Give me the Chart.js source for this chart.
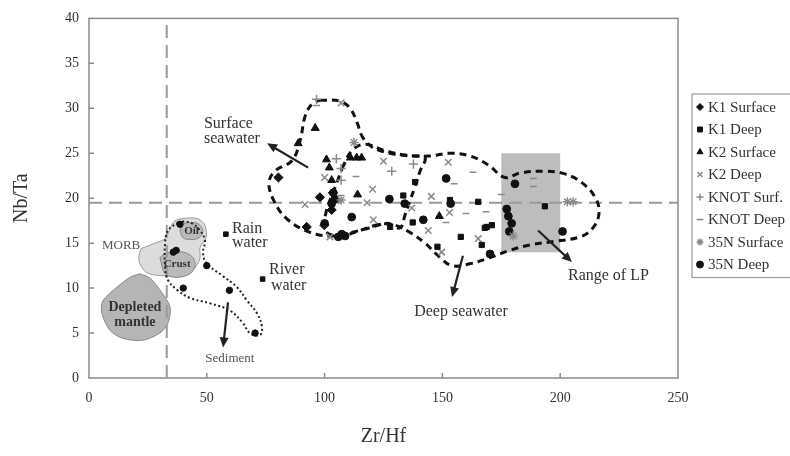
<!DOCTYPE html>
<html><head><meta charset="utf-8">
<script src="https://cdn.jsdelivr.net/npm/chart.js@4.4.0/dist/chart.umd.min.js"></script>
<style>html,body{margin:0;padding:0;background:#fff;}</style>
</head><body>
<canvas id="c" width="790" height="456"></canvas>
<script>
// ---- axis ticks ----
const xTickValues = [0, 50, 100, 150, 200, 250];
const yTickValues = [0, 5, 10, 15, 20, 25, 30, 35, 40];

// ---- series (Zr/Hf, Nb/Ta) ----
const k1Surface = [[80.4,22.3],[98.0,20.1],[103.0,18.7],[99.9,17.0],[92.4,16.8],[103.5,20.6]];
const k1Deep = [[138.4,21.8],[151.5,22.2],[133.4,20.3],[153.2,19.8],[165.2,19.6],[137.4,17.3],[127.8,16.8],[157.8,15.7],[168.8,16.8],[166.7,14.8],[147.9,14.6],[193.5,19.1],[171.0,17.0],[168.0,16.7]];
const k2Surface = [[96.0,27.8],[88.8,26.1],[111.0,24.5],[113.6,24.5],[115.7,24.5],[100.8,24.3],[102.0,23.4],[103.0,22.0],[114.0,20.4],[148.7,18.0]];
const k2Deep = [[107.0,30.6],[100.0,22.3],[91.7,19.3],[120.4,21.0],[125.0,24.1],[152.5,24.0],[137.0,18.9],[145.3,20.2],[153.0,18.4],[144.0,16.4],[165.2,15.5],[149.7,14.0],[120.7,17.6],[102.3,15.7],[118.0,19.5]];
const knotSurf = [[96.6,31.0],[105.0,24.4],[107.0,23.3],[107.0,22.0],[128.5,23.0],[137.7,23.8]];
const knotDeep = [[96.6,30.3],[113.3,22.4],[163.0,22.9],[155.0,21.6],[151.5,17.3],[175.0,20.4],[188.6,22.2],[188.6,21.3],[168.5,18.5],[107.0,20.3],[160.0,18.3]];
const n35Surface = [[112.5,26.2],[203.0,19.6],[205.5,19.6],[107.0,19.8],[180.0,15.8]];
const n35Deep = [[127.5,19.9],[134.0,19.4],[141.9,17.6],[153.5,19.4],[111.5,17.9],[104.4,19.9],[103.0,19.4],[107.3,16.0],[108.7,15.8],[105.8,15.7],[180.8,21.6],[177.3,18.8],[178.0,18.0],[179.4,17.2],[178.4,16.3],[201.0,16.3],[170.2,13.8],[151.6,22.2],[100.0,17.2],[103.7,20.6]];

// reference end-members
const sedimentPoints = [[38.6,17.1],[35.8,14.0],[37.0,14.2],[50.0,12.5],[40.0,10.0],[59.6,9.75],[70.5,5.0]];
const waterPoints = [[58.1,16.0],[73.7,11.0]];

// ---- fields / envelopes ----
const surfaceEnvelope = [[98.0,30.9],[106.5,30.8],[110.8,30.0],[113.8,28.4],[115.9,26.9],[120.1,25.7],[127.8,25.0],[136.2,24.7],[142.6,24.5],[140.5,23.0],[138.4,21.3],[136.2,19.7],[134.1,18.1],[132.0,16.7],[126.5,17.2],[119.3,16.7],[109.5,16.1],[102.3,15.8],[93.8,16.2],[84.0,17.7],[78.5,19.7],[76.4,21.7],[78.9,23.0],[86.2,24.2],[89.6,26.4],[91.7,29.1],[94.7,30.5],[98.0,30.9]];
const deepEnvelope = [[107.4,23.3],[111.6,25.3],[117.1,26.0],[125.6,25.3],[134.1,24.8],[144.7,24.7],[153.2,25.0],[161.7,24.7],[169.4,23.7],[176.6,22.3],[182.9,22.8],[193.5,23.0],[202.0,22.7],[209.3,21.7],[214.8,20.1],[216.5,18.4],[213.9,16.7],[208.4,15.7],[197.8,15.2],[187.2,14.8],[178.7,14.2],[170.2,13.4],[161.7,12.7],[154.1,12.5],[149.0,13.4],[142.6,15.0],[136.2,16.2],[129.9,17.0],[123.5,17.1],[115.0,16.4],[106.5,15.8],[100.2,16.4],[100.6,18.4],[103.1,20.3],[105.3,21.8],[107.4,23.3]];
const sedimentEnvelope = [[37.8,17.3],[33.5,16.4],[32.3,15.0],[32.3,12.3],[33.5,10.9],[37.4,9.8],[42.9,8.9],[51.4,8.3],[59.8,7.5],[65.4,6.1],[68.3,5.0],[72.6,4.8],[73.4,5.7],[71.3,7.2],[67.1,8.6],[62.8,10.1],[56.5,11.4],[50.1,12.7],[48.4,13.9],[49.2,15.3],[47.1,16.4],[43.7,17.2],[39.9,17.4],[37.8,17.3]];
const morbField = [[22.1,14.4],[28.0,15.0],[32.3,15.5],[34.4,16.6],[36.5,17.5],[42.0,17.8],[46.3,17.7],[49.2,17.0],[49.7,15.6],[47.1,14.5],[47.1,13.3],[44.1,12.0],[38.6,11.4],[30.1,11.4],[24.6,11.7],[21.6,12.7],[21.2,13.6],[22.1,14.4]];
const oilField = [[38.6,16.4],[39.9,17.1],[43.3,17.3],[46.7,17.1],[48.4,16.3],[46.7,15.6],[43.3,15.4],[39.9,15.6],[38.6,16.4]];
const crustField = [[30.1,13.4],[33.1,13.9],[39.9,14.0],[44.1,13.4],[45.0,12.5],[42.9,11.6],[37.4,11.2],[32.3,11.6],[30.1,13.4]];
const mantleField = [[21.6,11.6],[25.9,11.1],[30.1,9.8],[34.4,7.9],[33.5,6.1],[30.1,5.0],[22.9,4.2],[14.4,4.4],[8.9,5.3],[5.5,7.2],[5.9,8.6],[11.9,10.1],[17.4,11.2],[21.6,11.6]];
const lpRange = [[175,14],[200,14],[200,25],[175,25],[175,14]];
const refLineNbTa = [[0,19.5],[250,19.5]];
const refLineZrHf = [[33,0],[33,40]];

// ---- annotation labels (data coordinates) ----
const labels = [
  {t:'Surface', x:48.8, y:28.3, size:16, align:'left'},
  {t:'seawater', x:48.8, y:26.6, size:16, align:'left'},
  {t:'Rain', x:60.7, y:16.6, size:16, align:'left'},
  {t:'water', x:60.7, y:15.0, size:16, align:'left'},
  {t:'River', x:76.4, y:12.0, size:16, align:'left'},
  {t:'water', x:77.2, y:10.3, size:16, align:'left'},
  {t:'MORB', x:5.5, y:14.7, size:13, align:'left', color:'#555'},
  {t:'Oil', x:43.5, y:16.3, size:11, align:'center', bold:true},
  {t:'Crust', x:37.4, y:12.7, size:11, align:'center', bold:true},
  {t:'Depleted', x:19.5, y:7.9, size:14, align:'center', bold:true},
  {t:'mantle', x:19.5, y:6.2, size:14, align:'center', bold:true},
  {t:'Sediment', x:59.8, y:2.2, size:13, align:'center', color:'#555'},
  {t:'Deep seawater', x:157.9, y:7.4, size:16, align:'center'},
  {t:'Range of LP', x:203.3, y:11.4, size:16, align:'left'}
];
const arrows = [
  {from:[93.0,23.4], to:[75.6,26.1]},
  {from:[59.0,8.4], to:[56.9,3.4]},
  {from:[158.7,13.6], to:[154.1,9.0]},
  {from:[190.6,16.4], to:[205.0,12.9]}
];

const pts = a => a.map(([x,y]) => ({x, y}));
const SERIF = "'Liberation Serif','DejaVu Serif',serif";

function series(label, data, style, radius, color, bw) {
  return {label, data: pts(data), pointStyle: style, pointRadius: radius, pointHoverRadius: radius,
    backgroundColor: color, borderColor: color, pointBorderWidth: bw, showLine: false, order: 0, inLegend: true};
}
function outline(data, color, width, dash, tension, order, fillColor) {
  return {label: '', data: pts(data), showLine: true, pointRadius: 0, pointHoverRadius: 0,
    borderColor: color, borderWidth: width, borderDash: dash, tension: tension,
    fill: fillColor ? 'shape' : false, backgroundColor: fillColor || 'transparent', order: order};
}

const datasets = [
  series('K1 Surface', k1Surface, 'rectRot', 4.6, '#111', 1),
  series('K1 Deep', k1Deep, 'rect', 3.7, '#111', 1),
  series('K2 Surface', k2Surface, 'triangle', 4.6, '#111', 1),
  series('K2 Deep', k2Deep, 'crossRot', 4.6, '#8a8a8a', 1.5),
  series('KNOT Surf.', knotSurf, 'cross', 4.6, '#8a8a8a', 1.5),
  series('KNOT Deep', knotDeep, 'line', 3.4, '#8a8a8a', 1.5),
  series('35N Surface', n35Surface, 'star', 4.6, '#8a8a8a', 1.4),
  series('35N Deep', n35Deep, 'circle', 3.9, '#111', 1),
  Object.assign(series('sediment', sedimentPoints, 'circle', 3.2, '#111', 1), {inLegend:false}),
  Object.assign(series('water', waterPoints, 'rect', 3.2, '#111', 1), {inLegend:false}),
  outline(surfaceEnvelope, '#111', 3, [7,5], 0.4, 10),
  outline(deepEnvelope, '#111', 3, [7,5], 0.4, 10),
  outline(sedimentEnvelope, '#222', 2, [2,2.5], 0.4, 10),
  outline(refLineNbTa, '#9a9a9a', 2, [13,7], 0, 15),
  outline(refLineZrHf, '#9a9a9a', 2, [13,7], 0, 15),
  outline(lpRange, 'rgba(0,0,0,0)', 0, [], 0, 19, '#bdbdbd'),
  outline(oilField, '#888', 1, [], 0.35, 18, '#b9b9b9'),
  outline(crustField, '#888', 1, [], 0.35, 18, '#b9b9b9'),
  outline(morbField, '#9a9a9a', 1, [], 0.3, 20, '#dcdcdc'),
  outline(mantleField, '#8a8a8a', 1, [], 0.3, 20, '#b5b5b5')
];

const framePlugin = {
  id: 'frame',
  beforeDatasetsDraw(chart) {
    const {ctx, chartArea: a, scales: {x, y}} = chart;
    ctx.save();
    ctx.strokeStyle = '#8a8a8a';
    ctx.lineWidth = 1.5;
    ctx.strokeRect(a.left, a.top, a.right - a.left, a.bottom - a.top);
    ctx.beginPath();
    xTickValues.slice(1, -1).forEach(v => { const p = x.getPixelForValue(v); ctx.moveTo(p, a.bottom); ctx.lineTo(p, a.bottom - 5); });
    yTickValues.slice(1, -1).forEach(v => { const p = y.getPixelForValue(v); ctx.moveTo(a.left, p); ctx.lineTo(a.left + 5, p); });
    ctx.stroke();
    ctx.restore();
  }
};

const annotationPlugin = {
  id: 'annot',
  afterDatasetsDraw(chart) {
    const {ctx, scales: {x, y}} = chart;
    ctx.save();
    ctx.textBaseline = 'middle';
    labels.forEach(l => {
      ctx.font = (l.bold ? 'bold ' : '') + l.size + 'px ' + SERIF;
      ctx.fillStyle = l.color || '#333';
      ctx.textAlign = l.align;
      ctx.fillText(l.t, x.getPixelForValue(l.x), y.getPixelForValue(l.y));
    });
    ctx.strokeStyle = '#222';
    ctx.fillStyle = '#222';
    ctx.lineWidth = 2.2;
    arrows.forEach(a => {
      const x1 = x.getPixelForValue(a.from[0]), y1 = y.getPixelForValue(a.from[1]);
      const x2 = x.getPixelForValue(a.to[0]), y2 = y.getPixelForValue(a.to[1]);
      const ang = Math.atan2(y2 - y1, x2 - x1);
      const hl = 10, hw = 4.5;
      ctx.beginPath();
      ctx.moveTo(x1, y1);
      ctx.lineTo(x2 - Math.cos(ang) * hl * 0.8, y2 - Math.sin(ang) * hl * 0.8);
      ctx.stroke();
      ctx.beginPath();
      ctx.moveTo(x2, y2);
      ctx.lineTo(x2 - Math.cos(ang) * hl - Math.sin(ang) * hw, y2 - Math.sin(ang) * hl + Math.cos(ang) * hw);
      ctx.lineTo(x2 - Math.cos(ang) * hl + Math.sin(ang) * hw, y2 - Math.sin(ang) * hl - Math.cos(ang) * hw);
      ctx.closePath();
      ctx.fill();
    });
    ctx.restore();
  }
};

const legendPlugin = {
  id: 'boxLegend',
  afterDraw(chart) {
    const ctx = chart.ctx;
    const items = chart.data.datasets.filter(d => d.inLegend);
    const left = 692, top = 94, rowH = 22.5, firstY = 107;
    ctx.save();
    ctx.strokeStyle = '#9a9a9a';
    ctx.lineWidth = 1.2;
    ctx.strokeRect(left, top, 120, firstY - top + rowH * (items.length - 1) + 13);
    ctx.font = '15px ' + SERIF;
    ctx.textBaseline = 'middle';
    ctx.textAlign = 'left';
    items.forEach((d, i) => {
      const cy = firstY + i * rowH;
      ctx.fillStyle = d.backgroundColor;
      ctx.strokeStyle = d.borderColor;
      ctx.lineWidth = d.pointBorderWidth;
      Chart.helpers.drawPoint(ctx, {pointStyle: d.pointStyle, radius: Math.min(d.pointRadius, 3.5), rotation: 0, borderWidth: d.pointBorderWidth}, 700, cy);
      ctx.fillStyle = '#333';
      ctx.fillText(d.label, 708, cy + 1);
    });
    ctx.restore();
  }
};

new Chart(document.getElementById('c'), {
  type: 'scatter',
  data: {datasets},
  options: {
    responsive: false,
    animation: false,
    events: [],
    layout: {padding: {top: 17, right: 112, bottom: 0, left: 0}},
    plugins: {legend: {display: false}, tooltip: {enabled: false}},
    scales: {
      x: {
        type: 'linear', min: 0, max: 250,
        afterBuildTicks(s) { s.ticks = xTickValues.map(v => ({value: v})); },
        afterFit(s) { s.height = 78; },
        ticks: {padding: 12, color: '#333', font: {family: SERIF, size: 14}},
        grid: {display: false, drawTicks: false},
        border: {display: false},
        title: {display: true, text: 'Zr/Hf', color: '#333', font: {family: SERIF, size: 20}, padding: {top: 0, bottom: 7}}
      },
      y: {
        type: 'linear', min: 0, max: 40,
        afterBuildTicks(s) { s.ticks = yTickValues.map(v => ({value: v})); },
        afterFit(s) { s.width = 89; },
        ticks: {padding: 10, color: '#333', font: {family: SERIF, size: 14}},
        grid: {display: false, drawTicks: false},
        border: {display: false},
        title: {display: true, text: 'Nb/Ta', color: '#333', font: {family: SERIF, size: 20}, padding: {top: 10, bottom: 0}}
      }
    }
  },
  plugins: [framePlugin, annotationPlugin, legendPlugin]
});
</script>
</body></html>
